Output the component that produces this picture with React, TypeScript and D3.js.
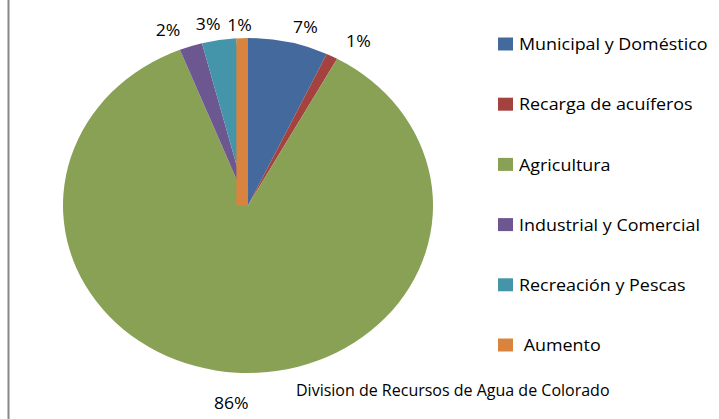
import React from "react";
import * as d3 from "d3";

const categories = [
  "Municipal y Doméstico",
  "Recarga de acuíferos",
  "Agricultura",
  "Industrial y Comercial",
  "Recreación y Pescas",
  "Aumento",
];
const values = [7, 1, 86, 2, 3, 1];
const pctLabels = ["7%", "1%", "86%", "2%", "3%", "1%"];
const colors = ["#44699C", "#A3423F", "#88A155", "#6D5791", "#4595AA", "#D8843F"];
const footer = "Division de Recursos de Agua de Colorado";

// layout
const W = 719, H = 419;
const cx = 248, cy = 205.5, rx = 185, ry = 167.5;
const labelK = 1.1;
const labelNudge: [number, number][] = [
  [13, 1], [18, -1], [-4, 13], [-17, 0], [-8, 0.5], [-2, 3],
];
const FONT = "'Open Sans', 'Noto Sans', sans-serif";

export default function App() {
  const pie = d3.pie<number>().sort(null).value((d) => d);
  const arcs = pie(values);
  const arc = d3.arc<d3.PieArcDatum<number>>().innerRadius(0).outerRadius(rx);
  const last = arcs[arcs.length - 1];
  const rectLeft = cx + rx * Math.sin(last.startAngle);
  const rectRight = cx + rx * Math.sin(last.endAngle);

  const legendY = d3.scaleLinear().domain([0, categories.length - 1]).range([44, 345]);

  return (
    <svg width={W} height={H} style={{ position: "absolute", left: 0, top: 0, background: "#fff" }} fontFamily={FONT}>
      <line x1={8.5} x2={8.5} y1={0} y2={H} stroke="#888" strokeWidth={2} />
      <defs>
        <clipPath id="ell">
          <ellipse cx={cx} cy={cy} rx={rx} ry={ry} />
        </clipPath>
      </defs>
      <g transform={`translate(${cx},${cy}) scale(1,${ry / rx})`}>
        {arcs.map((a, i) =>
          i === arcs.length - 1 ? null : (
            <path key={i} d={arc(a) || ""} fill={colors[i]} />
          )
        )}
      </g>
      <rect
        x={rectLeft}
        y={cy - ry}
        width={rectRight - rectLeft}
        height={ry}
        fill={colors[arcs.length - 1]}
        clipPath="url(#ell)"
      />
      {arcs.map((a, i) => {
        const m = (a.startAngle + a.endAngle) / 2;
        const x = cx + rx * labelK * Math.sin(m) + labelNudge[i][0];
        const y = cy - ry * labelK * Math.cos(m) + labelNudge[i][1];
        return (
          <text
            key={i}
            transform={`translate(${x},${y}) scale(1.1,1)`}
            textAnchor="middle"
            dominantBaseline="central"
            fontSize={16}
            fill="#000"
          >
            {pctLabels[i]}
          </text>
        );
      })}
      {categories.map((c, i) => (
        <g key={c} transform={`translate(498,${legendY(i)})`}>
          <rect x={0} y={-6.5} width={15} height={13} fill={colors[i]} />
          <text
            transform="translate(21,0) scale(1.12,1)"
            dominantBaseline="central"
            fontSize={16}
            fill="#000"
          >
            {i === categories.length - 1 ? "\u00A0" + c : c}
          </text>
        </g>
      ))}
      <text x={296} y={390} dominantBaseline="central" fontSize={16} fill="#000">
        {footer}
      </text>
    </svg>
  );
}
